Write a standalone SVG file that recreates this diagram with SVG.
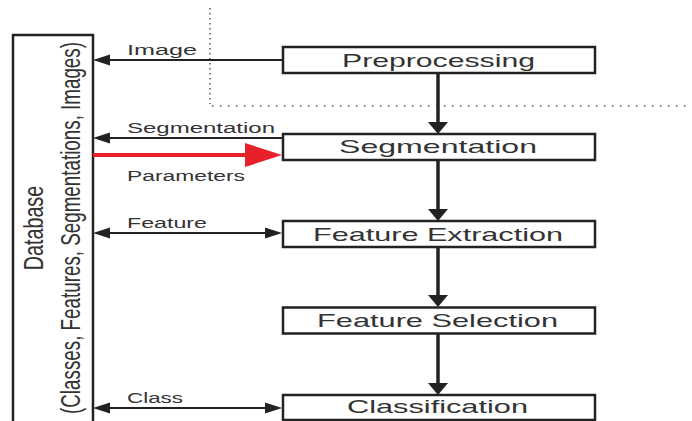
<svg xmlns="http://www.w3.org/2000/svg" width="692" height="421" viewBox="0 0 692 421">
<style>
.box{fill:#fff;stroke:#222;stroke-width:2.5}
.lbl{font-family:"Liberation Sans",Arial,sans-serif;font-size:19px;fill:#333}
.sm{font-family:"Liberation Sans",Arial,sans-serif;font-size:14px;fill:#333}
.db{font-family:"Liberation Sans",Arial,sans-serif;font-size:28px;fill:#333}
.h{stroke:#222;stroke-width:2;fill:none}
.v{stroke:#222;stroke-width:3.5;fill:none}
</style>
<rect width="692" height="421" fill="#fff"/>
<g id="dotted">
<path d="M210,8 V104" stroke="#555" stroke-width="1.5" stroke-dasharray="1.5,3.5" fill="none"/>
<path d="M212,106 H692" stroke="#555" stroke-width="1.5" stroke-dasharray="1.5,6.5" fill="none"/>
</g>
<g id="database">
<path d="M13,421 V35 H93 V421" fill="none" stroke="#222" stroke-width="2.5"/>
<text class="db" transform="translate(43,228) rotate(-90) scale(0.68,1)" text-anchor="middle" textLength="124" lengthAdjust="spacingAndGlyphs">Database</text>
<text class="db" transform="translate(80,228) rotate(-90) scale(0.68,1)" text-anchor="middle" textLength="547" lengthAdjust="spacingAndGlyphs">(Classes, Features, Segmentations, Images)</text>
</g>
<g id="connectors">
<line class="h" x1="282" y1="60" x2="108" y2="60"/>
<polygon points="93,60 110,54.5 110,65.5" fill="#222"/>
<line class="h" x1="282" y1="138" x2="108" y2="138"/>
<polygon points="93,138 110,132.5 110,143.5" fill="#222"/>
<line x1="93" y1="155" x2="247" y2="155" stroke="#e8202a" stroke-width="4"/>
<polygon points="282,155 245,143 245,167" fill="#e8202a"/>
<line class="h" x1="108" y1="233" x2="267" y2="233"/>
<polygon points="93,233 110,227.5 110,238.5" fill="#222"/>
<polygon points="282,233 265,227.5 265,238.5" fill="#222"/>
<line class="h" x1="108" y1="408" x2="267" y2="408"/>
<polygon points="93,408 110,402.5 110,413.5" fill="#222"/>
<polygon points="282,408 265,402.5 265,413.5" fill="#222"/>
<line class="v" x1="438" y1="73" x2="438" y2="124"/>
<polygon points="438,134 428,122 448,122" fill="#222"/>
<line class="v" x1="438" y1="160" x2="438" y2="211"/>
<polygon points="438,221 428,209 448,209" fill="#222"/>
<line class="v" x1="438" y1="247" x2="438" y2="297"/>
<polygon points="438,307 428,295 448,295" fill="#222"/>
<line class="v" x1="438" y1="334" x2="438" y2="385"/>
<polygon points="438,395 428,383 448,383" fill="#222"/>
<text class="sm" x="127" y="55" textLength="70" lengthAdjust="spacingAndGlyphs">Image</text>
<text class="sm" x="127" y="133" textLength="148" lengthAdjust="spacingAndGlyphs">Segmentation</text>
<text class="sm" x="127" y="181" textLength="118" lengthAdjust="spacingAndGlyphs">Parameters</text>
<text class="sm" x="127" y="228" textLength="80" lengthAdjust="spacingAndGlyphs">Feature</text>
<text class="sm" x="127" y="403" textLength="56" lengthAdjust="spacingAndGlyphs">Class</text>
</g>
<g id="preprocessing">
<rect class="box" x="283" y="47" width="312" height="26"/>
<text class="lbl" x="438.5" y="67" text-anchor="middle" textLength="193" lengthAdjust="spacingAndGlyphs">Preprocessing</text>
</g>
<g id="segmentation">
<rect class="box" x="283" y="134" width="312" height="26"/>
<text class="lbl" x="438" y="153" text-anchor="middle" textLength="198" lengthAdjust="spacingAndGlyphs">Segmentation</text>
</g>
<g id="feature-extraction">
<rect class="box" x="283" y="221" width="312" height="26"/>
<text class="lbl" x="438" y="241" text-anchor="middle" textLength="250" lengthAdjust="spacingAndGlyphs">Feature Extraction</text>
</g>
<g id="feature-selection">
<rect class="box" x="283" y="307.5" width="312" height="26"/>
<text class="lbl" x="437.5" y="327" text-anchor="middle" textLength="241" lengthAdjust="spacingAndGlyphs">Feature Selection</text>
</g>
<g id="classification">
<rect class="box" x="283" y="395" width="312" height="25"/>
<text class="lbl" x="437.5" y="413" text-anchor="middle" textLength="181" lengthAdjust="spacingAndGlyphs">Classification</text>
</g>
</svg>
